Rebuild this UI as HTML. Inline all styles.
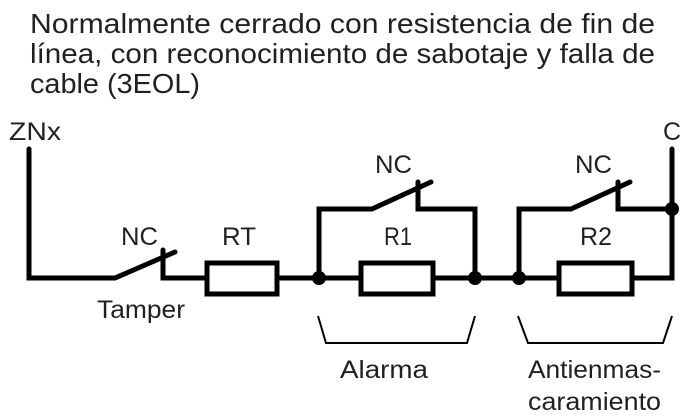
<!DOCTYPE html>
<html><head><meta charset="utf-8"><style>
html,body{margin:0;padding:0;background:#fff;}
svg{display:block;}
text{font-family:"Liberation Sans",sans-serif;fill:#231f20;}
</style></head><body>
<svg width="694" height="418" viewBox="0 0 694 418" xmlns="http://www.w3.org/2000/svg">
<g font-size="28">
<text x="30" y="33" textLength="625" lengthAdjust="spacingAndGlyphs">Normalmente cerrado con resistencia de fin de</text>
<text x="30" y="63" textLength="625" lengthAdjust="spacingAndGlyphs">línea, con reconocimiento de sabotaje y falla de</text>
<text x="30" y="93" textLength="170" lengthAdjust="spacingAndGlyphs">cable (3EOL)</text>
</g>
<g font-size="25">
<text x="9" y="140" textLength="52" lengthAdjust="spacingAndGlyphs">ZNx</text>
<text x="663" y="140">C</text>
<text x="121" y="245" textLength="37" lengthAdjust="spacingAndGlyphs">NC</text>
<text x="222" y="245" textLength="34" lengthAdjust="spacingAndGlyphs">RT</text>
<text x="97" y="318" textLength="88" lengthAdjust="spacingAndGlyphs">Tamper</text>
<text x="375" y="173" textLength="37" lengthAdjust="spacingAndGlyphs">NC</text>
<text x="384" y="245" textLength="28" lengthAdjust="spacingAndGlyphs">R1</text>
<text x="575" y="173" textLength="37" lengthAdjust="spacingAndGlyphs">NC</text>
<text x="580" y="245" textLength="32" lengthAdjust="spacingAndGlyphs">R2</text>
<text x="340" y="378" textLength="88" lengthAdjust="spacingAndGlyphs">Alarma</text>
<text x="528" y="378" textLength="133" lengthAdjust="spacingAndGlyphs">Antienmas-</text>
<text x="528" y="410" textLength="133" lengthAdjust="spacingAndGlyphs">caramiento</text>
</g>
<g stroke="#000" stroke-width="5" fill="none" stroke-linejoin="miter" stroke-linecap="round">
<polyline points="29,149 29,278 115,278 175,252"/>
<polyline points="163,250 163,278 207,278"/>
<rect x="207" y="263" width="70" height="31"/>
<line x1="277" y1="278" x2="361" y2="278"/>
<polyline points="319,278 319,209 372,209 431,182"/>
<polyline points="418,182 418,209 475,209 475,278"/>
<rect x="361" y="263" width="72" height="31"/>
<line x1="433" y1="278" x2="559" y2="278"/>
<polyline points="519,278 519,209 571,209 630,182"/>
<polyline points="618,182 618,209 672,209"/>
<rect x="559" y="263" width="73" height="31"/>
<polyline points="632,278 672,278 672,149"/>
</g>
<g fill="#000">
<circle cx="319" cy="278" r="7"/><circle cx="475" cy="278" r="7"/>
<circle cx="519" cy="278" r="7"/><circle cx="672" cy="209" r="7"/>
</g>
<g stroke="#000" stroke-width="2" fill="none">
<polyline points="318,316 326,343 467,343 475,316"/>
<polyline points="518,316 528,343 663,343 672,316"/>
</g>
</svg>
</body></html>
